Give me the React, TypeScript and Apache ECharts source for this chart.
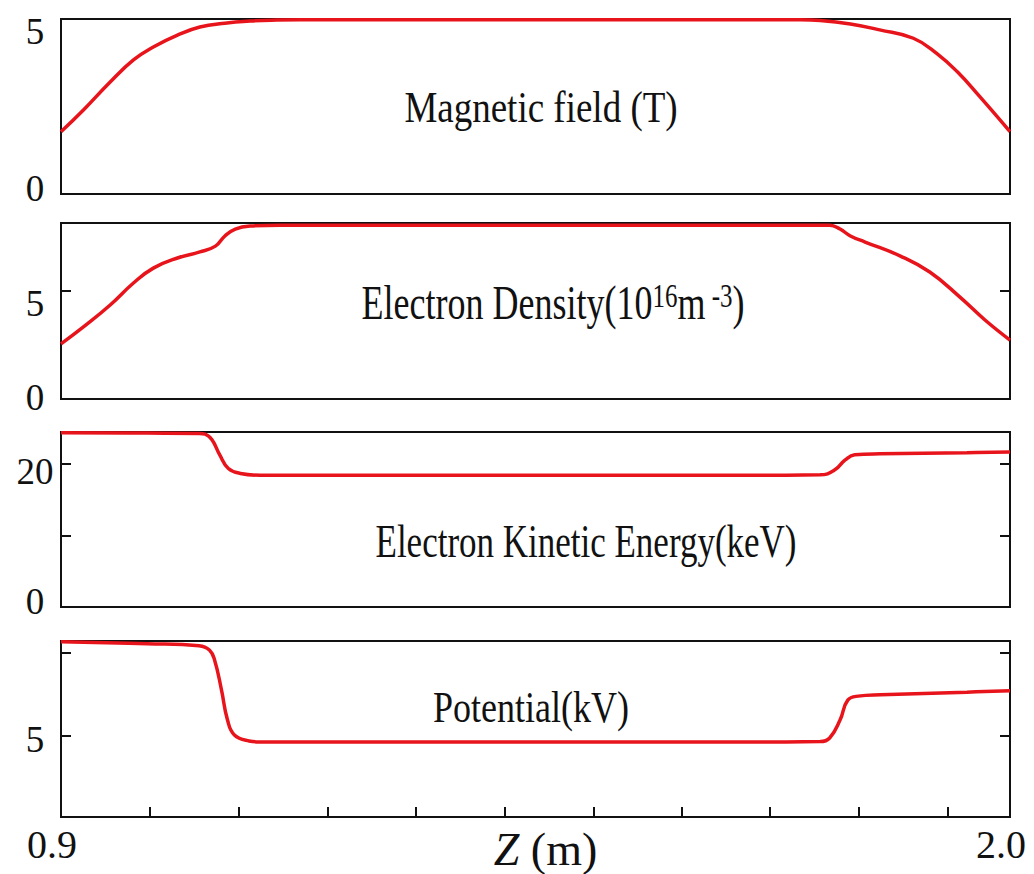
import React, { useEffect, useRef } from "react";
import * as echarts from "echarts";

const SERIF = "Liberation Serif";
const RED = "#e8141b";
const INK = "#111111";

// Axial position z (m) and on-axis profiles
const zField = [0.9, 0.926, 0.957, 0.984, 1.007, 1.035, 1.061, 1.09, 1.119, 1.15, 1.177, 1.3, 1.5, 1.7, 1.757, 1.78, 1.815, 1.849, 1.888, 1.915, 1.939, 1.965, 2.0];
const magneticField = [1.78, 2.4, 3.2, 3.83, 4.2, 4.54, 4.77, 4.88, 4.94, 4.97, 4.98, 4.98, 4.98, 4.98, 4.98, 4.96, 4.86, 4.69, 4.45, 4.02, 3.49, 2.78, 1.78];

const zDensity = [0.9, 0.929, 0.957, 0.984, 1.007, 1.035, 1.061, 1.079, 1.09, 1.102, 1.119, 1.154, 1.4, 1.6, 1.791, 1.803, 1.815, 1.832, 1.873, 1.907, 1.942, 1.971, 2.0];
const electronDensity = [2.55, 3.43, 4.35, 5.37, 6.06, 6.53, 6.81, 7.08, 7.55, 7.87, 8.01, 8.05, 8.05, 8.05, 8.05, 7.87, 7.55, 7.27, 6.62, 5.88, 4.72, 3.66, 2.73];

const zEnergy = [0.9, 1.0, 1.06, 1.067, 1.075, 1.084, 1.094, 1.108, 1.131, 1.3, 1.5, 1.7, 1.78, 1.797, 1.809, 1.82, 1.849, 1.95, 2.0];
const kineticEnergy = [24.4, 24.35, 24.3, 24.2, 23.4, 21.3, 19.4, 18.7, 18.45, 18.45, 18.45, 18.45, 18.5, 19.2, 20.6, 21.3, 21.45, 21.6, 21.7];

const zPotential = [0.9, 1.0, 1.06, 1.072, 1.078, 1.086, 1.093, 1.101, 1.118, 1.13, 1.3, 1.5, 1.7, 1.78, 1.791, 1.803, 1.812, 1.824, 1.85, 1.95, 2.0];
const potential = [7.84, 7.78, 7.72, 7.59, 7.29, 6.39, 5.48, 5.03, 4.85, 4.82, 4.82, 4.82, 4.82, 4.83, 4.94, 5.48, 6.08, 6.2, 6.24, 6.32, 6.36];

// Axis ticks and labels
const zMin = 0.9;
const zMax = 2.0;
const zTicks = [1.003, 1.106, 1.209, 1.311, 1.414, 1.517, 1.62, 1.722, 1.825, 1.928];
const zLabels = [0.9, 2.0];

const fieldTicks: number[] = [];
const fieldLabels = [0, 5];
const densityTicks = [5];
const densityLabels = [0, 5];
const energyTicks = [10, 20];
const energyLabels = [0, 20];
const potentialTicks = [5, 7.5];
const potentialLabels = [5];

const titles = ["Magnetic field (T)", "Electron Density(10{sup|16}m{sup| -3})", "Electron Kinetic Energy(keV)", "Potential(kV)"];

type Panel = {
  z: number[];
  v: number[];
  top: number;
  height: number;
  min: number;
  max: number;
  ticks: number[];
  labels: number[];
  labelShift: number[];
  title: string;
  titleX: number;
  titleY: number;
  titleSize: number;
  titleScaleY: number;
};

const panels: Panel[] = [
  { z: zField, v: magneticField, top: 19, height: 175, min: 0, max: 5, ticks: fieldTicks, labels: fieldLabels, labelShift: [-6, 12], title: titles[0], titleX: 541, titleY: 107, titleSize: 37, titleScaleY: 1.22 },
  { z: zDensity, v: electronDensity, top: 223, height: 176, min: 0, max: 8.15, ticks: densityTicks, labels: densityLabels, labelShift: [-2, 12], title: titles[1], titleX: 553, titleY: 303, titleSize: 36, titleScaleY: 1.35 },
  { z: zEnergy, v: kineticEnergy, top: 432, height: 175, min: 0, max: 24.5, ticks: energyTicks, labels: energyLabels, labelShift: [-6, 7], title: titles[2], titleX: 586, titleY: 541, titleSize: 35, titleScaleY: 1.35 },
  { z: zPotential, v: potential, top: 641, height: 176, min: 2.56, max: 7.86, ticks: potentialTicks, labels: potentialLabels, labelShift: [3.5], title: titles[3], titleX: 531, titleY: 707, titleSize: 36, titleScaleY: 1.25 },
];

const GRID_LEFT = 61;
const GRID_RIGHT = 1034 - 1010;

function buildOption(): echarts.EChartsOption {
  const grid = panels.map((p) => ({
    left: GRID_LEFT,
    right: GRID_RIGHT,
    top: p.top,
    height: p.height,
    containLabel: false,
    outerBoundsMode: "none",
    show: true,
    borderColor: INK,
    borderWidth: 2,
    backgroundColor: "transparent",
  }));

  const xAxis = panels.map((p, i) => {
    const last = i === panels.length - 1;
    return {
      type: "value" as const,
      gridIndex: i,
      min: zMin,
      max: zMax,
      axisLine: { show: false },
      splitLine: { show: false },
      axisTick: last
        ? { show: true, inside: true, length: 10, customValues: zTicks, lineStyle: { color: INK, width: 2 } }
        : { show: false },
      axisLabel: last
        ? {
            show: true,
            customValues: zLabels,
            formatter: (v: number) => v.toFixed(1),
            fontFamily: SERIF,
            fontSize: 40,
            color: INK,
            margin: 27,
            verticalAlign: "middle" as const,
            padding: [0, 18, 0, 0],
          }
        : { show: false },
      name: last ? "{i|Z} (m)" : "",
      nameLocation: "middle" as const,
      nameGap: 32,
      nameMoveOverlap: false,
      nameTextStyle: {
        fontFamily: SERIF,
        fontSize: 46,
        color: INK,
        verticalAlign: "middle" as const,
        padding: [0, 0, 0, 20],
        rich: { i: { fontFamily: SERIF, fontSize: 46, fontStyle: "italic" as const, color: INK } },
      },
    };
  });

  const yAxis: any[] = [];
  panels.forEach((p, i) => {
    const rich: Record<string, any> = {};
    p.labels.forEach((_, k) => {
      const d = p.labelShift[k] || 0;
      rich["l" + k] = {
        fontFamily: SERIF,
        fontSize: 37,
        color: INK,
        padding: d >= 0 ? [2 * d, 0, 0, 0] : [0, 0, -2 * d, 0],
      };
    });
    yAxis.push({
      type: "value",
      gridIndex: i,
      position: "left",
      scale: true,
      min: p.min,
      max: p.max,
      axisLine: { show: false },
      splitLine: { show: false },
      axisTick: { show: p.ticks.length > 0, inside: true, length: 10, customValues: p.ticks, lineStyle: { color: INK, width: 2 } },
      axisLabel: {
        show: true,
        customValues: p.labels,
        align: "center",
        margin: 26,
        fontFamily: SERIF,
        fontSize: 37,
        color: INK,
        formatter: (v: number) => {
          const k = p.labels.findIndex((l) => Math.abs(l - v) < 1e-6);
          return k >= 0 ? `{l${k}|${p.labels[k]}}` : "";
        },
        rich,
      },
    });
    yAxis.push({
      type: "value",
      gridIndex: i,
      position: "right",
      scale: true,
      min: p.min,
      max: p.max,
      axisLine: { show: false },
      splitLine: { show: false },
      axisTick: { show: p.ticks.length > 0, inside: true, length: 10, customValues: p.ticks, lineStyle: { color: INK, width: 2 } },
      axisLabel: { show: false },
    });
  });

  const series = panels.map((p, i) => ({
    type: "line" as const,
    xAxisIndex: i,
    yAxisIndex: 2 * i,
    data: p.z.map((z, k) => [z, p.v[k]]),
    showSymbol: false,
    smooth: 0.45,
    lineStyle: { color: RED, width: 3.5 },
    silent: true,
    z: 3,
  }));

  const graphic = panels.map((p) => ({
    type: "text" as const,
    x: p.titleX,
    y: p.titleY,
    scaleY: p.titleScaleY,
    z: 10,
    style: {
      text: p.title,
      fontFamily: SERIF,
      fontSize: p.titleSize,
      fill: INK,
      align: "center",
      verticalAlign: "middle",
      textAlign: "center",
      textVerticalAlign: "middle",
      rich: {
        sup: { fontFamily: SERIF, fontSize: 25, fill: INK, verticalAlign: "top" },
      },
    },
  }));

  return {
    animation: false,
    backgroundColor: "#ffffff",
    grid,
    xAxis,
    yAxis,
    series,
    graphic: graphic as any,
  } as echarts.EChartsOption;
}

export default function App() {
  const ref = useRef<HTMLDivElement>(null);

  useEffect(() => {
    if (!ref.current) return;
    const chart = echarts.init(ref.current, undefined, { renderer: "svg" });
    chart.setOption(buildOption());
    return () => chart.dispose();
  }, []);

  return (
    <div
      ref={ref}
      style={{ position: "fixed", left: 0, top: 0, width: 1034, height: 874, background: "#ffffff" }}
    />
  );
}
